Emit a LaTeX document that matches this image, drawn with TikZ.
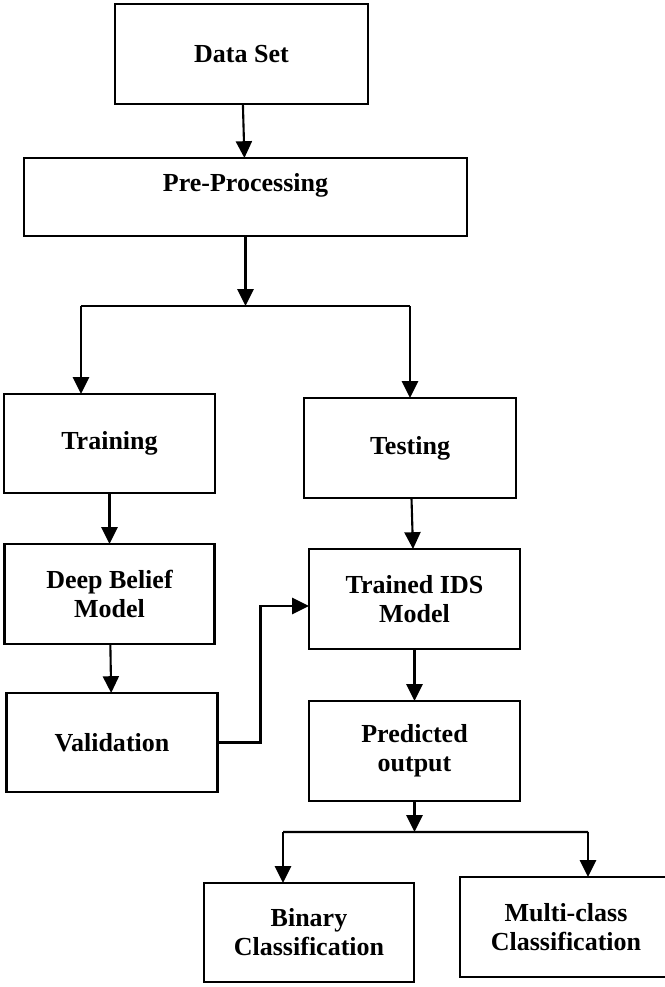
\documentclass[tikz,border=0pt]{standalone}
\usepackage{fontspec}
\setmainfont{Liberation Serif}
\usetikzlibrary{positioning,arrows.meta}

\begin{document}
\begin{tikzpicture}[
    box/.style={draw, line width=1.5pt, align=center, inner sep=0pt, outer sep=0pt,
      minimum width=5.3cm, minimum height=2.5cm,
      font=\fontsize{18.5}{20.6}\selectfont\bfseries},
    link/.style={line width=1.5pt},
    flow/.style={link, -{Triangle[length=0.42cm, width=0.4cm]}}
  ]
  \useasboundingbox (-6.0375,1.35) rectangle (10.5875,-23.325);

  \node [box, minimum width=6.325cm] (data) at (0,0) {Data Set};
  \node [box, minimum width=11.075cm, minimum height=1.95cm, text depth=0.75cm,
    below=1.35cm of data, xshift=0.1cm] (pre) {Pre-Processing};

  \node [box, minimum width=5.275cm, minimum height=2.475cm,
    below=3.95cm of pre, xshift=-3.4cm] (training) {Training};
  \node [box, below=4.05cm of pre, xshift=4.1125cm] (testing) {Testing};

  \node [box, minimum width=5.25cm, below=1.275cm of training] (belief) {Deep Belief\\Model};
  \node [box, minimum width=5.275cm, below=1.275cm of testing, xshift=0.1125cm] (trained) {Trained IDS\\Model};

  \node [box, minimum width=5.275cm, minimum height=2.475cm,
    below=1.225cm of belief, xshift=0.0625cm] (valid) {Validation};
  \node [box, minimum width=5.275cm, below=1.3cm of trained] (predicted) {Predicted\\output};

  \node [box, minimum width=5.25cm, minimum height=2.475cm,
    below=2.05cm of predicted, xshift=-2.6375cm] (binary) {Binary\\Classification};
  \node [box, below=1.9cm of predicted, xshift=3.7875cm] (multi) {Multi-class\\Classification};

  % split points
  \coordinate [below=1.75cm of pre] (split1);
  \coordinate [above=2.2cm of training, xshift=-0.7125cm] (tl);
  \coordinate [below=0.775cm of predicted] (split2);
  \coordinate [above=1.275cm of binary, xshift=-0.65cm] (bl);
  \coordinate [above=1.125cm of multi, xshift=0.55cm] (br);

  \draw [flow] (data) -- (pre);
  \draw [flow] (pre) -- (split1);
  \draw [link] (tl) -- (tl -| testing);
  \draw [flow] (tl) -- (tl |- training.north);
  \draw [flow] (tl -| testing) -- (testing);

  \draw [flow] (training) -- (belief);
  \draw [flow] (belief) -- (valid);
  \draw [flow] (testing) -- (trained);
  \draw [flow] (valid.east) -- ++(1.075cm,0) |- ([yshift=-0.175cm]trained.west);
  \draw [flow] (trained) -- (predicted);

  \draw [flow] (predicted) -- (split2);
  \draw [link] (bl) -- (br);
  \draw [flow] (bl) -- (bl |- binary.north);
  \draw [flow] (br) -- (br |- multi.north);
\end{tikzpicture}
\end{document}
